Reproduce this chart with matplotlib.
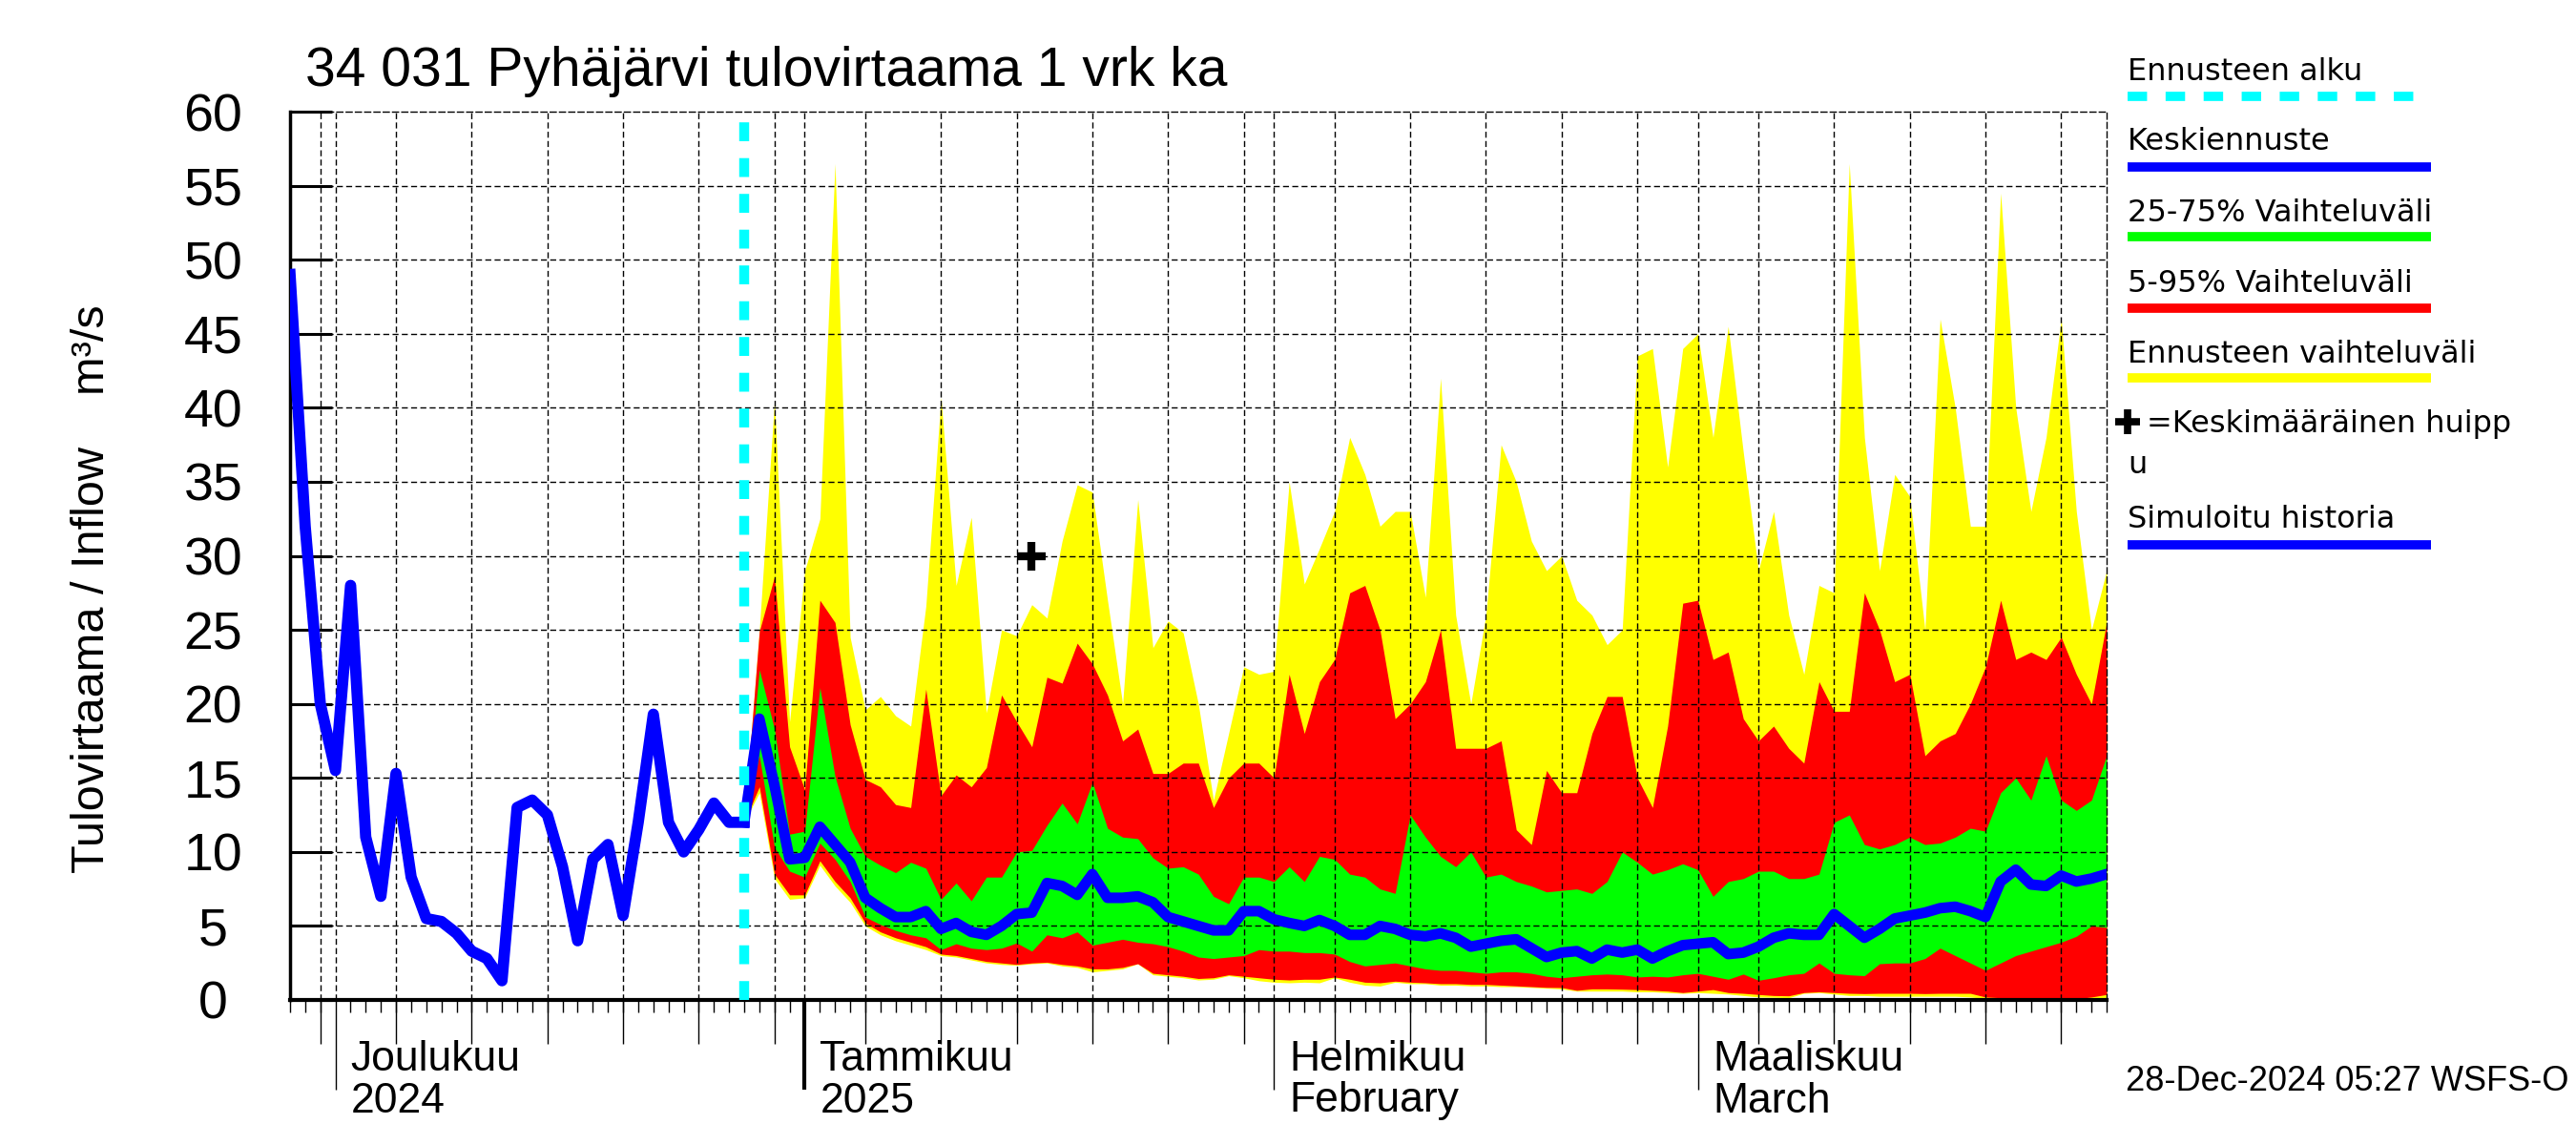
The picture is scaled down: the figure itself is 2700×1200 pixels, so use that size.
import numpy as np
import pandas as pd
import matplotlib
matplotlib.use("Agg")
import matplotlib.pyplot as plt
import matplotlib.dates as mdates
from matplotlib.lines import Line2D
from matplotlib.transforms import blended_transform_factory

plt.rcParams['font.family'] = ['Liberation Sans', 'DejaVu Sans']

# ---------------- data ----------------
title = "34 031 Pyhäjärvi tulovirtaama 1 vrk ka"
ylabel = "Tulovirtaama / Inflow    m³/s"
stamp = "28-Dec-2024 05:27 WSFS-O"

hist_start = "2024-11-28"
hist_values = [49, 32, 20, 15.5, 28, 11, 7, 15.3, 8.3, 5.5, 5.3, 4.5, 3.3, 2.8, 1.3,
               13, 13.5, 12.5, 9, 4, 9.5, 10.5, 5.7, 12, 19.3, 12, 10, 11.5, 13.3, 12, 12]

fc_start = "2024-12-28"
fc_max = [12, 25, 40.5, 18.8, 29, 32.5, 56.5, 24.5, 19.6, 20.5,
          19.2, 18.5, 26.6, 40.7, 28, 32.6, 19.4, 25, 24.6, 26.7,
          25.8, 31, 34.8, 34.3, 27, 20, 33.8, 23.8, 25.6, 24.8,
          20, 13.5, 18, 22.5, 22, 22.2, 35, 28.1, 30.5, 33,
          38, 35.5, 32, 33, 33, 27.2, 42, 26, 20, 26,
          37.5, 35, 31, 29, 30, 27, 26, 24, 25, 43.5,
          44, 36, 44, 45, 38, 45.5, 37, 29, 33, 26,
          22, 28, 27.5, 56.5, 38, 29, 35.5, 34, 25, 46,
          40, 32, 32, 54.5, 40, 33, 38, 46, 33, 25, 29]
fc_p95 = [12, 24.9, 28.6, 17.1, 14.2, 27, 25.5, 18.6, 14.9, 14.4,
          13.2, 13, 21, 13.8, 15.2, 14.4, 15.7, 20.6, 18.8, 17.1,
          21.8, 21.4, 24.1, 22.7, 20.6, 17.5, 18.3, 15.3, 15.3, 16,
          16, 13, 15, 16, 16, 15, 22, 18, 21.5, 23,
          27.5, 28, 25, 19, 20, 21.5, 25, 17, 17, 17,
          17.5, 11.5, 10.5, 15.5, 14, 14, 18, 20.5, 20.5, 15,
          13, 18.5, 26.8, 27, 23, 23.5, 19, 17.5, 18.5, 17,
          16, 21.5, 19.5, 19.5, 27.5, 25, 21.5, 22, 16.5, 17.5,
          18, 20, 22.5, 27, 23, 23.5, 23, 24.5, 22, 20, 25.5]
fc_p75 = [12, 22.3, 18.3, 11.2, 11.4, 21.1, 15.1, 11.6, 9.7, 9.1,
          8.6, 9.3, 8.9, 6.8, 7.9, 6.7, 8.3, 8.3, 10, 10.1,
          11.8, 13.3, 11.9, 14.7, 11.6, 11, 10.9, 9.6, 8.9, 9,
          8.5, 7, 6.5, 8.3, 8.3, 8, 9, 8, 9.7, 9.5,
          8.5, 8.3, 7.5, 7.2, 12.5, 11, 9.7, 9, 10, 8.3,
          8.5, 8, 7.7, 7.3, 7.4, 7.5, 7.2, 8, 10, 9.3,
          8.5, 8.8, 9.2, 8.8, 7, 8, 8.2, 8.7, 8.7, 8.2,
          8.2, 8.5, 12, 12.5, 10.5, 10.2, 10.5, 11, 10.5, 10.6,
          11, 11.6, 11.4, 14, 15, 13.5, 16.5, 13.5, 12.8, 13.5, 16.5]
fc_median = [12, 19, 14.5, 9.5, 9.6, 11.7, 10.5, 9.3, 6.9, 6.2,
             5.6, 5.6, 6, 4.8, 5.2, 4.6, 4.4, 5, 5.8, 5.9,
             7.9, 7.7, 7.1, 8.5, 6.9, 6.9, 7, 6.6, 5.6, 5.3,
             5.0, 4.7, 4.7, 6.0, 6.0, 5.45, 5.2, 5.0, 5.4, 5.0,
             4.4, 4.4, 5.0, 4.8, 4.4, 4.3, 4.5, 4.2, 3.6, 3.8,
             4.0, 4.1, 3.5, 2.9, 3.2, 3.3, 2.8, 3.4, 3.2, 3.4,
             2.8, 3.3, 3.7, 3.8, 3.9, 3.1, 3.2, 3.6, 4.2, 4.5,
             4.4, 4.4, 5.8, 5.0, 4.2, 4.8, 5.5, 5.7, 5.9, 6.2,
             6.3, 6.0, 5.6, 8.0, 8.8, 7.8, 7.7, 8.4, 8.0, 8.2, 8.5]
fc_p25 = [12, 16.5, 10.3, 8.7, 8.3, 10.6, 9.5, 8.0, 5.6, 5.1,
          4.7, 4.4, 4.2, 3.4, 3.8, 3.5, 3.4, 3.5, 3.85, 3.3,
          4.4, 4.2, 4.6, 3.7, 3.9, 4.1, 3.9, 3.8, 3.6, 3.3,
          2.9, 2.8, 2.9, 3.0, 3.4, 3.3, 3.3, 3.2, 3.2, 3.1,
          2.6, 2.3, 2.4, 2.5, 2.3, 2.1, 2.0, 2.0, 1.9, 1.8,
          1.9, 1.9, 1.8, 1.6, 1.5, 1.6, 1.7, 1.75, 1.7, 1.55,
          1.6, 1.55, 1.7, 1.8, 1.6, 1.4, 1.75, 1.33, 1.5, 1.7,
          1.8, 2.5, 1.8, 1.7, 1.64, 2.45, 2.5, 2.5, 2.8, 3.5,
          3.0, 2.5, 2.0, 2.5, 3.0, 3.3, 3.6, 3.9, 4.3, 5.0, 4.9]
fc_p5 = [12, 14.4, 8.5, 7.1, 7.1, 9.4, 8.0, 6.9, 5.2, 4.6,
         4.2, 3.9, 3.6, 3.1, 3.0, 2.8, 2.6, 2.5, 2.4, 2.5,
         2.55, 2.4, 2.3, 2.1, 2.1, 2.2, 2.45, 1.8, 1.7, 1.6,
         1.45, 1.5, 1.7, 1.6, 1.5, 1.4, 1.35, 1.4, 1.4, 1.55,
         1.4, 1.2, 1.16, 1.27, 1.2, 1.16, 1.1, 1.1, 1.05, 1.05,
         1.0, 0.95, 0.9, 0.85, 0.84, 0.65, 0.75, 0.75, 0.73, 0.7,
         0.65, 0.6, 0.5, 0.6, 0.7, 0.5, 0.45, 0.37, 0.3, 0.28,
         0.5, 0.55, 0.5, 0.45, 0.43, 0.45, 0.45, 0.45, 0.43, 0.45,
         0.45, 0.45, 0.2, 0.15, 0.13, 0.1, 0.05, 0.06, 0.08, 0.2, 0.37]
fc_min = [12, 14.0, 8.2, 6.8, 6.9, 9.1, 7.7, 6.6, 5.0, 4.4,
          4.0, 3.7, 3.4, 3.0, 2.9, 2.7, 2.5, 2.4, 2.35, 2.45,
          2.5, 2.3, 2.2, 1.9, 2.0, 2.1, 2.45, 1.7, 1.6, 1.5,
          1.35, 1.4, 1.64, 1.5, 1.3, 1.2, 1.16, 1.2, 1.16, 1.5,
          1.2, 1.0, 0.94, 1.2, 1.1, 1.1, 1.0, 1.0, 0.95, 0.95,
          0.9, 0.9, 0.85, 0.8, 0.75, 0.6, 0.6, 0.6, 0.6, 0.55,
          0.55, 0.5, 0.45, 0.5, 0.45, 0.4, 0.3, 0.2, 0.18, 0.15,
          0.45, 0.5, 0.4, 0.3, 0.3, 0.25, 0.25, 0.25, 0.25, 0.25,
          0.25, 0.2, 0.1, 0.05, 0.04, 0.04, 0.04, 0.04, 0.04, 0.1, 0.15]

peak_date = "2025-01-16"
peak_value = 30

x_start, x_end = "2024-11-28", "2025-03-28"
month_labels = [("2024-12-01", "Joulukuu", "2024"),
                ("2025-01-01", "Tammikuu", "2025"),
                ("2025-02-01", "Helmikuu", "February"),
                ("2025-03-01", "Maaliskuu", "March")]
legend_items = ["Ennusteen alku", "Keskiennuste", "25-75% Vaihteluväli",
                "5-95% Vaihteluväli", "Ennusteen vaihteluväli",
                "=Keskimääräinen huipp", "Simuloitu historia"]

# ---------------- figure ----------------
hist_dates = pd.date_range(hist_start, periods=len(hist_values), freq="D")
fc_dates = pd.date_range(fc_start, periods=len(fc_median), freq="D")

W, H = 2700, 1200
fig = plt.figure(figsize=(27, 12), dpi=100)
ax_l, ax_r, ax_b, ax_t = 304, 2208, 1048, 117
ax = fig.add_axes([ax_l / W, 1 - ax_b / H, (ax_r - ax_l) / W, (ax_b - ax_t) / H])

ax.fill_between(fc_dates, fc_min, fc_max, color="#ffff00", lw=0, zorder=1.0)
ax.fill_between(fc_dates, fc_p5, fc_p95, color="#ff0000", lw=0, zorder=1.1)
ax.fill_between(fc_dates, fc_p25, fc_p75, color="#00ff00", lw=0, zorder=1.2)

# grid
grid_kw = dict(color="black", lw=1.0, dashes=(4.5, 2.5), zorder=1.5)
for v in range(5, 60, 5):
    ax.axhline(v, **grid_kw)
grid_days = [pd.Timestamp("2024-11-30")]
for m in pd.date_range("2024-12-01", "2025-03-01", freq="MS"):
    for d in (1, 5, 10, 15, 20, 25, 30):
        t = m + pd.Timedelta(days=d - 1)
        if t.month == m.month:
            grid_days.append(t)
for t in grid_days:
    ax.axvline(t, **grid_kw)

ax.plot(fc_dates, fc_median, color="#0000ff", lw=8, zorder=3)
ax.plot(hist_dates, hist_values, color="#0000ff", lw=8.5, zorder=3)
ax.axvline(pd.Timestamp(fc_start), color="#00ffff", lw=7.5, dashes=(1.9, 1.7), zorder=4)
ax.plot(pd.Timestamp(peak_date), peak_value, marker="+", ms=22, mew=6,
        color="black", zorder=5, clip_on=False)

ax.set_xlim(pd.Timestamp(x_start), pd.Timestamp(x_end))
ax.set_ylim(0, 60)

# spines
for s in ("top", "right"):
    ax.spines[s].set_linestyle((0, (4.5, 2.5)))
    ax.spines[s].set_linewidth(1.0)
ax.spines["left"].set_linewidth(2.5)
ax.spines["bottom"].set_linewidth(3)

# y ticks
ax.set_yticks(range(0, 61, 5))
ax.tick_params(axis="y", direction="in", length=32, width=2.2, pad=58, labelsize=40)
for lab in ax.get_yticklabels():
    lab.set_ha("center")
ax.set_ylabel(ylabel, fontsize=35)
ax.yaxis.set_label_coords(-0.097, 0.463)

# x ticks: months long, days short, 5-day medium
month_ticks = [pd.Timestamp(d) for d, _, _ in month_labels]
ax.set_xticks(month_ticks)
ax.set_xticklabels([])
ax.xaxis.set_minor_locator(mdates.DayLocator())
ax.tick_params(axis="x", which="major", direction="out", length=68, width=1.0)
ax.tick_params(axis="x", which="minor", direction="out", length=9, width=1.0)
ax.xaxis.get_major_ticks()[1].tick1line.set_markeredgewidth(3)

sec = ax.secondary_xaxis("bottom")
five = [t for t in grid_days if t.day != 1]
sec.set_xticks([mdates.date2num(t) for t in five])
sec.tick_params(axis="x", direction="out", length=33, width=1.0, labelbottom=False)
sec.spines["bottom"].set_visible(False)

trans = blended_transform_factory(ax.transData, fig.transFigure)
for d, l1, l2 in month_labels:
    x = mdates.date2num(pd.Timestamp(d)) + 1.0
    ax.text(x, 1 - 1111 / H, l1, transform=trans, fontsize=32, va="center", ha="left")
    ax.text(x, 1 - 1154 / H, l2, transform=trans, fontsize=32, va="center", ha="left")

# title & stamp
fig.text(320 / W, 1 - 90 / H, title, fontsize=41, va="baseline", ha="left")
fig.text(2228 / W, 1 - 1143 / H, stamp, fontsize=26, va="baseline", ha="left")

# legend
lx0, lx1 = 2230, 2548
lfont = dict(fontsize=23, family=["DejaVu Sans"], va="baseline", ha="left")
entries = [(legend_items[0], 84, 101, "#00ffff", True),
           (legend_items[1], 157, 175, "#0000ff", False),
           (legend_items[2], 231.5, 248, "#00ff00", False),
           (legend_items[3], 306, 322.6, "#ff0000", False),
           (legend_items[4], 380, 396, "#ffff00", False),
           (legend_items[6], 553, 571, "#0000ff", False)]
for txt, yb, yl, col, dashed in entries:
    fig.text(lx0 / W, 1 - yb / H, txt, **lfont)
    ln = Line2D([lx0 / W, lx1 / W], [1 - yl / H, 1 - yl / H], transform=fig.transFigure,
                color=col, lw=7, solid_capstyle="butt", dash_capstyle="butt")
    if dashed:
        ln.set_dashes((2.1, 2.0))
    fig.add_artist(ln)
fig.add_artist(Line2D([2230 / W], [1 - 442 / H], transform=fig.transFigure, marker="+",
                      ms=19, mew=5.5, color="black", ls="none"))
fig.text(2250 / W, 1 - 453.5 / H, legend_items[5], **lfont)
fig.text(lx0 / W, 1 - 495.6 / H, "u", **lfont)

fig.savefig("out.png", dpi=100)
